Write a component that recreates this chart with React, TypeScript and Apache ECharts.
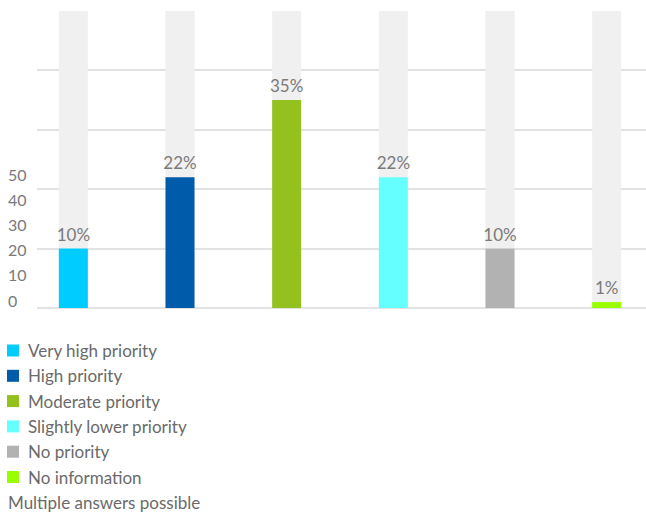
import React, { useEffect, useRef } from "react";
import * as echarts from "echarts";

const categories = [
  "Very high priority",
  "High priority",
  "Moderate priority",
  "Slightly lower priority",
  "No priority",
  "No information",
];
const values = [10, 22, 35, 22, 10, 1];
const colors = ["#00CCFF", "#005BAA", "#95C11F", "#66FFFF", "#B2B2B2", "#99FF00"];
const scaleMax = 50;
const tickLabels = [0, 10, 20, 30, 40, 50];
const note = "Multiple answers possible";

const FONT = "Lato";
const GREY = "#7a7a7a";

export default function App() {
  const ref = useRef<HTMLDivElement>(null);
  useEffect(() => {
    if (!ref.current) return;
    const chart = echarts.init(ref.current, undefined, { renderer: "svg" });
    const barSeries = categories.map((name, i) => ({
      type: "bar",
      name,
      xAxisIndex: 0,
      yAxisIndex: 0,
      barWidth: 29,
      barGap: "-100%",
      z: 3,
      itemStyle: { color: colors[i] },
      label: {
        show: true,
        position: "top",
        distance: 6,
        formatter: "{c}%",
        color: GREY,
        fontSize: 17,
        fontFamily: FONT,
      },
      data: values.map((v, j) => (j === i ? v : "-")),
    }));
    chart.setOption({
      animation: false,
      textStyle: { fontFamily: FONT },
      title: {
        text: note,
        left: 3,
        top: 489,
        textStyle: { fontSize: 17, fontWeight: "normal", color: "#6a6a6a", fontFamily: FONT },
      },
      legend: {
        orient: "vertical",
        left: 2,
        top: 337,
        itemWidth: 12,
        itemHeight: 12,
        itemGap: 8.3,
        icon: "rect",
        data: categories,
        textStyle: {
          fontSize: 17,
          color: "#6a6a6a",
          lineHeight: 16,
          padding: [0, 0, 0, 4],
          fontFamily: FONT,
        },
      },
      grid: [
        { left: 20, width: 640, top: 11, bottom: 207 },
        { left: 37, width: 609, top: 70, bottom: 207 },
        { left: 8, width: 1, top: 174, height: 126 },
      ],
      xAxis: [
        { type: "category", gridIndex: 0, data: categories, show: false },
        { type: "value", gridIndex: 1, show: false },
        { type: "value", gridIndex: 2, show: false },
      ],
      yAxis: [
        { type: "value", gridIndex: 0, min: 0, max: scaleMax, show: false },
        {
          type: "value",
          gridIndex: 1,
          min: 0,
          max: 40,
          interval: 10,
          axisLabel: { show: false },
          axisLine: { show: false },
          axisTick: { show: false },
          splitLine: { show: true, lineStyle: { color: "#d9d9d9", width: 1.5 } },
          z: 0,
        },
        {
          type: "value",
          gridIndex: 2,
          min: tickLabels[0],
          max: tickLabels[tickLabels.length - 1],
          interval: tickLabels[1] - tickLabels[0],
          axisLine: { show: false },
          axisTick: { show: false },
          splitLine: { show: false },
          axisLabel: {
            align: "left",
            margin: 0,
            color: GREY,
            fontSize: 16,
            fontFamily: FONT,
          },
        },
      ],
      series: [
        {
          type: "bar",
          name: "bg",
          xAxisIndex: 0,
          yAxisIndex: 0,
          barWidth: 29,
          barGap: "-100%",
          z: 2,
          silent: true,
          itemStyle: { color: "#f0f0f0" },
          data: categories.map(() => scaleMax),
        },
        ...barSeries,
      ],
    });
    return () => chart.dispose();
  }, []);
  return (
    <div style={{ position: "absolute", left: 0, top: 0, width: 646, height: 515, overflow: "hidden" }}>
      <div ref={ref} style={{ width: 680, height: 515 }} />
    </div>
  );
}
